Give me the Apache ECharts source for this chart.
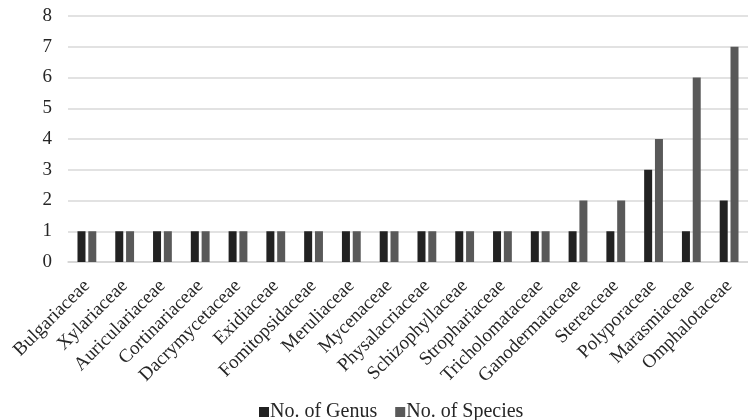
<!DOCTYPE html>
<html>
<head>
<meta charset="utf-8">
<script src="https://cdn.jsdelivr.net/npm/echarts@6/dist/echarts.min.js"></script>
<style>
  html, body { margin: 0; padding: 0; background: #ffffff; }
  #chart { width: 748px; height: 420px; }
</style>
</head>
<body>
<div id="chart"></div>
<script>
// Fungal families and their counts of genera and species
const families = [
  'Bulgariaceae', 'Xylariaceae', 'Auriculariaceae', 'Cortinariaceae',
  'Dacrymycetaceae', 'Exidiaceae', 'Fomitopsidaceae', 'Meruliaceae',
  'Mycenaceae', 'Physalacriaceae', 'Schizophyllaceae', 'Strophariaceae',
  'Tricholomataceae', 'Ganodermataceae', 'Stereaceae', 'Polyporaceae',
  'Marasmiaceae', 'Omphalotaceae'
];
const genusCounts   = [1, 1, 1, 1, 1, 1, 1, 1, 1, 1, 1, 1, 1, 1, 1, 3, 1, 2];
const speciesCounts = [1, 1, 1, 1, 1, 1, 1, 1, 1, 1, 1, 1, 1, 2, 2, 4, 6, 7];
const seriesNames = ['No. of Genus', 'No. of Species'];
const yTicks = { min: 0, max: 8, interval: 1 };

const FONT = '"Liberation Serif", "Times New Roman", serif';
const TEXT = '#262626';
const FS = 19;

const chart = echarts.init(document.getElementById('chart'), null, { renderer: 'canvas' });
chart.setOption({
  animation: false,
  backgroundColor: '#ffffff',
  textStyle: { fontFamily: FONT },
  grid: { left: 68, top: 16, bottom: 158, width: 690, containLabel: false },
  legend: {
    top: 397,
    left: 254,
    itemWidth: 10,
    itemHeight: 10,
    itemGap: 18,
    icon: 'rect',
    textStyle: { fontFamily: FONT, fontSize: 20, color: TEXT, padding: [0, 0, 0, -4] },
    data: seriesNames
  },
  xAxis: {
    type: 'category',
    data: families,
    axisLine: { show: true, lineStyle: { color: '#d4d4d4', width: 1.5 } },
    axisTick: { show: false },
    axisLabel: {
      interval: 0,
      rotate: 45,
      margin: 21,
      fontFamily: FONT,
      fontSize: FS,
      color: TEXT
    }
  },
  yAxis: {
    type: 'value',
    min: yTicks.min,
    max: yTicks.max,
    interval: yTicks.interval,
    axisLine: { show: false },
    axisTick: { show: false },
    splitLine: { show: true, lineStyle: { color: '#d9d9d9', width: 1.5 } },
    axisLabel: { margin: 16, fontFamily: FONT, fontSize: FS, color: TEXT }
  },
  series: [
    {
      name: seriesNames[0],
      type: 'bar',
      data: genusCounts,
      barWidth: 8,
      barGap: '35%',
      itemStyle: { color: '#222222' }
    },
    {
      name: seriesNames[1],
      type: 'bar',
      data: speciesCounts,
      barWidth: 8,
      itemStyle: { color: '#595959' }
    }
  ]
});
</script>
</body>
</html>
